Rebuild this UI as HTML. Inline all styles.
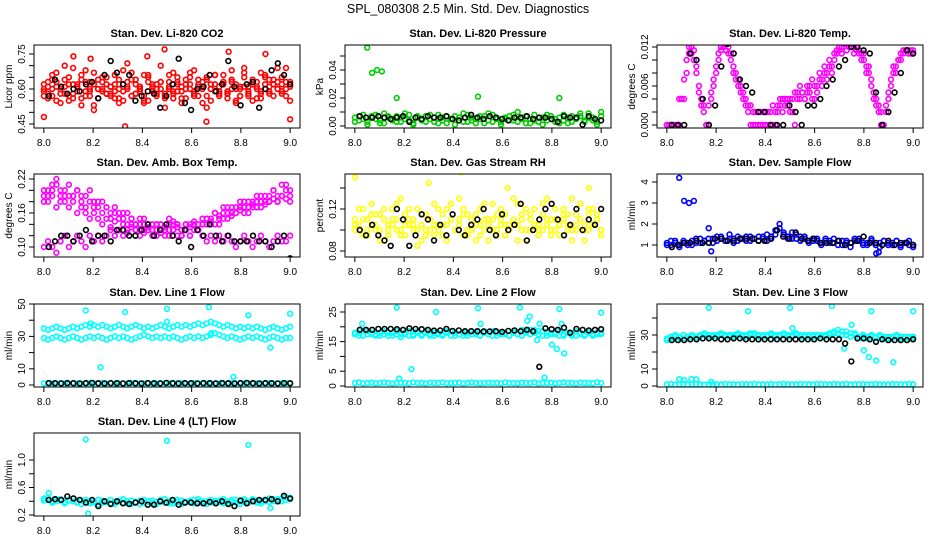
<!DOCTYPE html>
<html><head><meta charset="utf-8"><style>
html,body{margin:0;padding:0;background:#fff;}
svg{display:block;font-family:"Liberation Sans",Arial,sans-serif;}
</style></head><body>
<svg id="chart" width="936" height="540" viewBox="0 0 936 540">
<text x="468" y="13" text-anchor="middle" font-size="12.5">SPL_080308  2.5 Min. Std. Dev. Diagnostics</text>
</svg>
<script>
const xTicks=[8.0,8.2,8.4,8.6,8.8,9.0];
const co2A=[0.62,0.58,0.66,0.55,0.60,0.64,0.57,0.69,0.61,0.53,0.63,0.59,0.67,0.56,0.60,0.65,0.58,0.62,0.54,0.68,0.61,0.57,0.64,0.59,0.66,0.55,0.62,0.60,0.70,0.57,0.63,0.58,0.65,0.61,0.56,0.67,0.59,0.62,0.54,0.64,0.60,0.66,0.57,0.63,0.59,0.68,0.55,0.61,0.65,0.58,0.62,0.56,0.67,0.60,0.64,0.57,0.63,0.59,0.69,0.55];
const co2B=[0.57,0.63,0.60,0.67,0.54,0.61,0.65,0.58,0.62,0.56,0.68,0.60,0.53,0.64,0.59,0.62,0.57,0.66,0.60,0.55,0.63,0.67,0.58,0.61,0.54,0.65,0.60,0.57,0.63,0.52,0.66,0.59,0.62,0.56,0.64,0.60,0.68,0.57,0.61,0.65,0.55,0.62,0.59,0.66,0.58,0.63,0.54,0.60,0.67,0.57,0.64,0.61,0.56,0.65,0.59,0.62,0.69,0.58,0.60,0.63];
const co2C=[0.60,0.56,0.64,0.61,0.58,0.70,0.55,0.62,0.59,0.66,0.57,0.63,0.51,0.60,0.65,0.58,0.61,0.56,0.64,0.59,0.71,0.57,0.62,0.60,0.55,0.66,0.61,0.58,0.63,0.56,0.60,0.67,0.59,0.54,0.62,0.65,0.57,0.61,0.63,0.52,0.60,0.66,0.58,0.62,0.56,0.64,0.60,0.57,0.69,0.61,0.55,0.63,0.59,0.66,0.58,0.62,0.60,0.65,0.57,0.61];
const co2D=[0.59,0.61,0.57,0.63,0.60,0.58,0.62,0.56,0.61,0.64,0.59,0.57,0.62,0.60,0.63,0.58,0.61,0.59,0.56,0.62,0.60,0.64,0.58,0.61,0.57,0.63,0.59,0.62,0.60,0.58,0.61,0.56,0.63,0.59,0.60,0.62,0.58,0.64,0.60,0.57,0.62,0.59,0.61,0.63,0.58,0.60,0.62,0.57,0.61,0.59,0.63,0.60,0.58,0.62,0.61,0.64,0.60,0.62,0.63,0.62];
const co2OutX=[8.0,8.33,8.49,8.42,8.75,8.66,9.0,8.12,8.90,8.19];
const co2OutY=[0.48,0.44,0.77,0.74,0.76,0.46,0.47,0.74,0.75,0.73];
const co2Black=[0.57,0.64,0.61,0.58,0.60,0.59,0.62,0.63,0.56,0.66,0.72,0.67,0.62,0.66,0.55,0.57,0.59,0.58,0.52,0.57,0.62,0.73,0.54,0.51,0.60,0.61,0.66,0.59,0.62,0.72,0.61,0.53,0.62,0.63,0.52,0.60,0.68,0.71,0.66,0.62];

const presA=[0.006,0.004,0.008,0.003,0.007,0.005,0.002,0.009,0.006,0.004,0.007,0.003,0.005,0.008,0.002,0.006,0.004,0.007,0.005,0.003,0.008,0.006,0.002,0.005,0.007,0.004,0.009,0.003,0.006,0.005,0.007,0.002,0.004,0.008,0.006,0.003,0.005,0.007,0.004,0.010,0.006,0.002,0.005,0.008,0.003,0.006,0.004,0.007,0.005,0.002,0.008,0.006,0.003,0.005,0.007,0.004,0.009,0.006,0.003,0.010];
const presB=[0.003,0.007,0.005,0.001,0.006,0.008,0.004,0.002,0.007,0.005,0.003,0.006,0.009,0.004,0.001,0.007,0.005,0.003,0.008,0.006,0.002,0.004,0.007,0.005,0.001,0.006,0.003,0.008,0.004,0.002,0.005,0.007,0.009,0.003,0.005,0.001,0.006,0.004,0.008,0.003,0.005,0.007,0.002,0.004,0.006,0.001,0.008,0.005,0.003,0.006,0.004,0.002,0.007,0.005,0.009,0.003,0.006,0.004,0.001,0.007];
const presOutX=[8.05,8.07,8.09,8.11,8.17,8.50,8.83];
const presOutY=[0.056,0.038,0.040,0.039,0.020,0.021,0.020];
const presBlack=[0.007,0.006,0.006,0.007,0.006,0.005,0.006,0.007,0.003,0.006,0.005,0.007,0.006,0.006,0.007,0.005,0.004,0.006,0.008,0.006,0.005,0.007,0.006,0.005,0.004,0.006,0.006,0.007,0.005,0.006,0.006,0.005,0.003,0.007,0.006,0.006,0.001,0.007,0.005,0.004];

const tempA=[0,0,0,0,0,0.004,0.004,0.004,0.008,0.011,0.012,0.010,0.009,0.005,0.004,0.003,0,0.003,0.004,0.006,0.008,0.010,0.0115,0.012,0.0125,0.012,0.010,0.009,0.008,0.007,0.006,0.005,0.004,0.003,0.003,0.002,0,0.002,0.002,0,0.002,0,0.002,0,0.002,0.003,0.004,0.002,0.004,0.003,0.004,0.002,0,0.005,0.004,0.005,0.004,0.005,0.006,0.004,0.006,0.005,0.007,0.006,0.008,0.007,0.009,0.008,0.010,0.011,0.0115,0.012,0.0125,0.0125,0.012,0.0125,0.012,0.0115,0.0115,0.011,0.010,0.009,0.008,0.007,0.005,0.004,0.003,0.002,0,0.003,0.005,0.007,0.008,0.009,0.010,0.011,0.0115,0.0115,0.0115,0.011,0.0115];
const tempB=[0,0,0,0,0,0,0.004,0.007,0.010,0.012,0.011,0.0115,0.008,0.006,0.003,0.002,0,0,0.005,0.007,0.009,0.011,0.012,0.0125,0.0115,0.011,0.011,0.008,0.007,0.006,0.005,0.004,0.003,0.002,0,0,0.002,0,0,0.002,0,0.002,0,0.003,0,0.002,0.003,0.004,0.003,0.004,0.002,0.004,0.005,0.004,0.006,0.005,0.004,0.006,0.005,0.007,0.004,0.006,0.008,0.007,0.009,0.008,0.010,0.009,0.011,0.0115,0.012,0.011,0.0125,0.0115,0.0125,0.012,0.011,0.012,0.011,0.010,0.011,0.008,0.009,0.006,0.004,0.003,0.002,0,0,0.002,0.004,0.006,0.009,0.008,0.010,0.010,0.011,0.0115,0.011,0.0115,0.011];
const tempBlack=[0,0,0,0.011,0.010,0.004,0,0.003,0.009,0.0125,0.011,0.007,0.006,0.005,0.002,0.002,0,0,0,0.003,0.002,0,0.003,0.003,0.004,0.006,0.007,0.009,0.010,0.012,0.012,0.0115,0.011,0.005,0,0.002,0.005,0.008,0.0115,0.011];

const ambUp=[0.20,0.19,0.21,0.22,0.20,0.19,0.21,0.19,0.20,0.18,0.19,0.20,0.18,0.17,0.18,0.17,0.16,0.17,0.16,0.15,0.16,0.15,0.14,0.15,0.14,0.13,0.14,0.13,0.14,0.13,0.14,0.13,0.14,0.12,0.13,0.14,0.13,0.14,0.15,0.14,0.15,0.16,0.15,0.16,0.17,0.16,0.17,0.18,0.17,0.18,0.17,0.18,0.19,0.18,0.19,0.20,0.19,0.21,0.20,0.19];
const ambUp2=[0.18,0.20,0.19,0.21,0.18,0.20,0.19,0.18,0.20,0.19,0.17,0.18,0.17,0.18,0.16,0.17,0.15,0.16,0.15,0.16,0.14,0.15,0.14,0.13,0.15,0.14,0.12,0.14,0.13,0.12,0.15,0.14,0.12,0.13,0.14,0.12,0.14,0.13,0.14,0.15,0.14,0.16,0.14,0.17,0.15,0.17,0.16,0.17,0.18,0.16,0.18,0.19,0.17,0.19,0.18,0.20,0.18,0.19,0.21,0.18];
const ambMid=[0.19,0.18,0.20,0.17,0.19,0.18,0.17,0.19,0.16,0.17,0.16,0.15,0.16,0.15,0.14,0.15,0.135,0.145,0.13,0.14,0.125,0.135,0.13,0.14,0.125,0.135,0.13,0.14,0.125,0.135,0.13,0.145,0.135,0.13,0.14,0.135,0.145,0.13,0.14,0.15,0.145,0.14,0.155,0.15,0.16,0.155,0.16,0.165,0.16,0.17,0.175,0.17,0.18,0.175,0.18,0.185,0.18,0.19,0.185,0.20];
const ambLo=[0.10,0.11,0.10,0.09,0.11,0.12,0.10,0.11,0.12,0.11,0.10,0.12,0.11,0.12,0.11,0.12,0.13,0.12,0.13,0.12,0.13,0.14,0.13,0.12,0.13,0.14,0.13,0.12,0.14,0.13,0.12,0.13,0.14,0.12,0.13,0.12,0.14,0.13,0.12,0.11,0.12,0.11,0.12,0.11,0.12,0.11,0.10,0.11,0.12,0.11,0.10,0.11,0.12,0.11,0.10,0.11,0.12,0.11,0.11,0.12];
const ambBlack=[0.10,0.11,0.12,0.12,0.11,0.12,0.13,0.11,0.12,0.12,0.11,0.13,0.13,0.12,0.12,0.13,0.14,0.12,0.13,0.14,0.12,0.11,0.13,0.10,0.13,0.12,0.14,0.12,0.11,0.12,0.11,0.11,0.11,0.12,0.11,0.11,0.10,0.11,0.12,0.08];

const rhA=[0.105,0.12,0.095,0.11,0.125,0.10,0.115,0.09,0.105,0.12,0.10,0.13,0.095,0.11,0.105,0.12,0.09,0.115,0.10,0.125,0.105,0.095,0.12,0.11,0.10,0.13,0.095,0.115,0.105,0.09,0.12,0.10,0.11,0.125,0.095,0.105,0.115,0.10,0.13,0.09,0.11,0.12,0.10,0.105,0.095,0.125,0.11,0.10,0.12,0.095,0.115,0.105,0.13,0.10,0.11,0.09,0.12,0.105,0.115,0.10];
const rhB=[0.11,0.10,0.12,0.095,0.105,0.115,0.09,0.12,0.10,0.11,0.125,0.095,0.105,0.12,0.10,0.085,0.115,0.10,0.11,0.095,0.12,0.105,0.09,0.125,0.10,0.11,0.12,0.095,0.10,0.115,0.105,0.125,0.09,0.11,0.10,0.12,0.095,0.105,0.11,0.125,0.10,0.09,0.115,0.12,0.105,0.10,0.13,0.095,0.11,0.105,0.12,0.10,0.09,0.115,0.125,0.105,0.10,0.12,0.11,0.095];
const rhC=[0.10,0.105,0.11,0.10,0.115,0.105,0.10,0.11,0.095,0.105,0.11,0.10,0.115,0.105,0.11,0.10,0.105,0.095,0.11,0.105,0.10,0.115,0.105,0.11,0.10,0.105,0.115,0.10,0.11,0.105,0.095,0.11,0.105,0.10,0.115,0.11,0.105,0.10,0.11,0.105,0.115,0.10,0.11,0.105,0.10,0.115,0.105,0.11,0.10,0.105,0.11,0.115,0.10,0.105,0.11,0.10,0.115,0.105,0.11,0.10];
const rhOutX=[8.0,8.43,8.68,8.62,8.95,8.3];
const rhOutY=[0.15,0.155,0.16,0.14,0.14,0.145];
const rhBlack=[0.10,0.095,0.105,0.095,0.09,0.085,0.12,0.11,0.085,0.095,0.115,0.11,0.09,0.105,0.095,0.115,0.10,0.095,0.105,0.11,0.12,0.10,0.095,0.115,0.10,0.105,0.125,0.09,0.10,0.11,0.12,0.125,0.11,0.095,0.105,0.12,0.10,0.11,0.105,0.12];

const sfA=[1.1,1.0,1.2,0.9,1.1,1.0,1.2,1.1,1.3,1.2,1.1,1.3,1.2,1.4,1.2,1.3,1.1,1.4,1.3,1.2,1.4,1.3,1.2,1.4,1.5,1.3,1.7,1.8,1.6,1.4,1.3,1.5,1.4,1.3,1.2,1.3,1.2,1.1,1.3,1.2,1.1,1.2,1.0,1.2,1.1,1.3,1.2,1.0,1.1,1.2,1.0,1.1,1.2,1.0,1.1,1.2,1.0,1.1,1.0,0.9];
const sfB=[1.0,1.2,1.1,1.0,1.2,1.1,1.0,1.3,1.1,1.2,1.3,1.1,1.4,1.3,1.2,1.5,1.3,1.2,1.3,1.4,1.2,1.3,1.4,1.3,1.2,1.4,1.5,2.0,1.5,1.3,1.6,1.3,1.2,1.4,1.1,1.2,1.3,1.0,1.2,1.1,1.3,1.0,1.2,1.1,0.9,1.2,1.3,1.1,1.0,1.3,1.1,0.9,1.2,1.1,1.0,1.2,0.9,1.1,1.2,1.0];
const sfOutX=[8.05,8.07,8.09,8.11,8.17,8.18,8.85,8.86];
const sfOutY=[4.2,3.1,3.0,3.1,1.8,0.7,0.6,0.65];
const sfBlack=[0.9,1.0,1.1,1.1,1.2,1.1,1.1,1.3,1.3,1.2,1.2,1.3,1.3,1.3,1.2,1.2,1.3,1.7,1.4,1.3,1.6,1.3,1.2,1.3,1.1,1.1,1.1,1.2,1.0,1.1,1.2,1.4,1.1,1.1,1.0,1.2,1.0,1.1,1.1,1.0];

const l1A=[35,34,35,36,35,34,35,36,35,36,37,36,37,36,37,36,35,36,37,36,35,36,37,36,35,36,35,36,37,36,35,36,37,36,37,36,37,38,37,38,39,38,37,36,37,36,35,36,35,36,35,36,35,34,35,36,35,34,35,36];
const l1B=[29,28,29,30,29,28,29,30,29,28,29,30,29,30,29,28,29,30,29,30,29,28,29,30,31,30,29,30,29,30,29,30,29,28,29,30,29,30,29,30,31,32,31,30,29,30,29,28,29,30,29,30,29,28,29,30,29,28,29,29];
const l1C=[1,1.2,0.8,1,1.1,0.9,1,1.2,1,0.8,1,1.1,1,0.9,1.2,1,1,0.8,1.1,1,1,1.2,0.9,1,1,1.1,0.8,1,1.2,1,0.9,1,1.1,1,1,0.8,1.2,1,1,0.9,1.1,1,1,1.2,0.8,1,1,1.1,0.9,1,1.2,1,1,0.8,1.1,1,1,0.9,1.2,1];
const l1OutX=[8.17,8.33,8.5,8.67,8.83,9.0,8.23,8.77,8.92,8.19,8.5,8.68];
const l1OutY=[46,45,47,48,43,44,11,5,23,38,39,32];
const l1Black=[1.2,1.1,1.0,1.2,1.1,1.0,1.2,1.3,1.1,1.0,1.2,1.1,1.0,1.2,1.1,1.0,1.2,1.1,1.0,1.3,1.1,1.0,1.2,1.1,1.0,1.2,1.1,1.0,1.2,1.1,1.0,1.2,1.3,1.1,1.0,1.2,1.1,1.0,1.2,1.1];

const l2A=[17.5,18,17,18.5,17.5,17,18,17.5,18,17,18.5,17.5,18,17,17.5,18.5,17,18,17.5,17,18,17.5,18.5,17,18,17.5,17,18,17.5,18,17,18.5,17.5,17,18,17.5,18,17,18.5,17.5,19,18,17.5,19,18.5,17,18,17.5,18,17,17.5,18,17,18.5,17.5,17,18,17.5,18,17.5];
const l2B=[18,17,18.5,17.5,18,17.5,17,18.5,17,18,17.5,16.5,17.5,18.5,17,18,17.5,18.5,17,18,17.5,17,18,18.5,17,17.5,18,17,18.5,17.5,17,18,17.5,18.5,17,18,17.5,17,18,17.5,17,18.5,19,18,17.5,18.5,17,18,17.5,18.5,17,18,17.5,17,18,17.5,18.5,17,17.5,18];
const l2C=[1,1.2,0.8,1,1.1,0.9,1,1.2,1,0.8,1,1.1,1,0.9,1.2,1,1,0.8,1.1,1,1,1.2,0.9,1,1,1.1,0.8,1,1.2,1,0.9,1,1.1,1,1,0.8,1.2,1,1,0.9,1.1,1,1,1.2,0.8,1,1,1.1,0.9,1,1.2,1,1,0.8,1.1,1,1,0.9,1.2,1];
const l2OutX=[8.17,8.33,8.5,8.67,8.83,9.0,8.23,8.18,8.77,8.8,8.82,8.85,8.7,8.71,8.75,8.74,8.03,8.51,8.84];
const l2OutY=[26.5,25,26.3,26.5,26,24.8,5.7,2.5,2.8,14,12.5,11,22,23.5,21,15.5,21,21,21];
const l2Black=[19,19,19,19.3,19.3,19.3,19.2,19,19.5,19.3,19.2,19,18.7,18.8,19.3,18.6,18.8,18.5,18.5,18.5,18.4,18.4,18.5,18.3,18.6,18.8,18.5,19,18.5,6.5,19.5,19.2,19,19.7,18,19.3,19,18.8,19,19.2];

const l3A=[28,29,30,29,28,29,30,29,30,31,30,29,30,31,30,29,30,31,30,29,30,31,30,29,30,31,30,29,30,29,30,31,30,29,30,29,30,29,30,31,32,31,30,32,31,30,29,30,29,30,29,30,29,28,29,30,29,28,29,28];
const l3B=[27,28,29,28,30,28,29,28,29,30,29,30,29,30,29,30,29,30,29,30,31,30,29,30,29,30,29,30,31,30,29,30,29,30,29,30,29,30,29,30,31,33,32,30,29,31,28,29,28,29,28,29,28,29,28,29,28,29,28,29];
const l3C=[1,1.2,0.8,1,1.1,0.9,1,1.2,1,0.8,1,1.1,1,0.9,1.2,1,1,0.8,1.1,1,1,1.2,0.9,1,1,1.1,0.8,1,1.2,1,0.9,1,1.1,1,1,0.8,1.2,1,1,0.9,1.1,1,1,1.2,0.8,1,1,1.1,0.9,1,1.2,1,1,0.8,1.1,1,1,0.9,1.2,1];
const l3OutX=[8.17,8.33,8.5,8.67,8.83,9.0,8.05,8.07,8.1,8.12,8.8,8.82,8.85,8.92,8.72,8.75,8.51,8.18];
const l3OutY=[46,44,46,47,44,44,4,3.5,4,3.8,21,17,15,14,22,36,34,2.5];
const l3Black=[27,27,27,27.5,27.5,28,28,28,27.5,27.5,28,28,27.5,27.5,27.5,27.5,27.5,27.5,27.5,27.5,27.5,27.5,27.5,27.5,28,27.5,27.5,27.5,25,14.5,28,28,27.5,26,27.5,27,27,27,27,27.5];

const l4A=[0.44,0.42,0.40,0.43,0.41,0.39,0.42,0.40,0.38,0.41,0.39,0.37,0.40,0.42,0.38,0.40,0.37,0.39,0.41,0.38,0.40,0.36,0.39,0.41,0.38,0.40,0.37,0.39,0.42,0.38,0.40,0.37,0.39,0.41,0.38,0.40,0.42,0.39,0.37,0.40,0.38,0.41,0.39,0.37,0.40,0.42,0.38,0.40,0.43,0.39,0.41,0.38,0.40,0.42,0.39,0.43,0.41,0.44,0.42,0.45];
const l4B=[0.41,0.45,0.38,0.40,0.43,0.37,0.41,0.44,0.39,0.36,0.42,0.40,0.38,0.35,0.41,0.39,0.42,0.36,0.40,0.43,0.37,0.41,0.38,0.36,0.42,0.39,0.41,0.36,0.40,0.43,0.37,0.40,0.42,0.36,0.39,0.41,0.37,0.43,0.40,0.36,0.42,0.38,0.41,0.43,0.37,0.39,0.42,0.36,0.40,0.38,0.43,0.41,0.37,0.40,0.44,0.40,0.43,0.40,0.46,0.43];
const l4OutX=[8.17,8.5,8.83,8.18,8.92,8.02];
const l4OutY=[1.3,1.28,1.22,0.22,0.30,0.52];
const l4Black=[0.42,0.43,0.42,0.47,0.44,0.42,0.38,0.42,0.33,0.40,0.36,0.40,0.37,0.36,0.38,0.40,0.35,0.35,0.40,0.38,0.42,0.35,0.38,0.38,0.37,0.37,0.39,0.37,0.40,0.36,0.33,0.41,0.37,0.40,0.42,0.42,0.43,0.40,0.48,0.44];

const NS="http://www.w3.org/2000/svg";
const svg=document.getElementById('chart');
const RED="#ff0000",GRN="#00cd00",MAG="#ff00ff",YEL="#ffff00",BLU="#0000ff",CYN="#00ffff";
const panels=[
 {name:"co2",title:"Stan. Dev. Li-820 CO2",yl:"Licor ppm",col:0,row:0,ref:[0.45,124,0.75,54],ticks:[0.45,0.50,0.55,0.60,0.65,0.70,0.75],labels:[0.45,0.60,0.75],dec:2,
  ser:[[co2A,RED],[co2B,RED],[co2C,RED],[co2D,RED]],out:[co2OutX,co2OutY,RED],blk:co2Black},
 {name:"pressure",title:"Stan. Dev. Li-820 Pressure",yl:"kPa",col:1,row:0,ref:[0,126,0.04,70],ticks:[0,0.01,0.02,0.03,0.04,0.05],labels:[0,0.02,0.04],dec:2,
  ser:[[presA,GRN],[presB,GRN]],out:[presOutX,presOutY,GRN],blk:presBlack},
 {name:"temp",title:"Stan. Dev. Li-820 Temp.",yl:"degrees C",col:2,row:0,ref:[0,125,0.012,47],ticks:[0,0.002,0.004,0.006,0.008,0.010,0.012],labels:[0,0.006,0.012],dec:3,
  ser:[[tempA,MAG],[tempB,MAG]],out:null,blk:tempBlack},
 {name:"amb-box",title:"Stan. Dev. Amb. Box Temp.",yl:"degrees C",col:0,row:1,ref:[0.10,247,0.22,179],ticks:[0.10,0.12,0.14,0.16,0.18,0.20,0.22],labels:[0.10,0.16,0.22],dec:2,
  ser:[[ambUp,MAG],[ambUp2,MAG],[ambMid,MAG],[ambLo,MAG]],out:null,blk:ambBlack},
 {name:"rh",title:"Stan. Dev. Gas Stream RH",yl:"percent",col:1,row:1,ref:[0.08,251,0.12,209],ticks:[0.08,0.10,0.12,0.14],labels:[0.08,0.12],dec:2,
  ser:[[rhA,YEL],[rhB,YEL],[rhC,YEL]],out:[rhOutX,rhOutY,YEL],blk:rhBlack},
 {name:"sample-flow",title:"Stan. Dev. Sample Flow",yl:"ml/min",col:2,row:1,ref:[1,245,4,182],ticks:[1,2,3,4],labels:[1,2,3,4],dec:0,
  ser:[[sfA,BLU],[sfB,BLU]],out:[sfOutX,sfOutY,BLU],blk:sfBlack},
 {name:"line1",title:"Stan. Dev. Line 1 Flow",yl:"ml/min",col:0,row:2,ref:[0,385,50,304],ticks:[0,10,20,30,40,50],labels:[0,10,30,50],dec:0,
  ser:[[l1A,CYN],[l1B,CYN],[l1C,CYN]],out:[l1OutX,l1OutY,CYN],blk:l1Black},
 {name:"line2",title:"Stan. Dev. Line 2 Flow",yl:"ml/min",col:1,row:2,ref:[0,386,25,312],ticks:[0,5,10,15,20,25],labels:[0,5,15,25],dec:0,
  ser:[[l2A,CYN],[l2B,CYN],[l2C,CYN]],out:[l2OutX,l2OutY,CYN],blk:l2Black},
 {name:"line3",title:"Stan. Dev. Line 3 Flow",yl:"ml/min",col:2,row:2,ref:[0,386,30,335],ticks:[0,10,20,30,40],labels:[0,10,30],dec:0,
  ser:[[l3A,CYN],[l3B,CYN],[l3C,CYN]],out:[l3OutX,l3OutY,CYN],blk:l3Black},
 {name:"line4",title:"Stan. Dev. Line 4 (LT) Flow",yl:"ml/min",col:0,row:3,ref:[0.2,515,1.0,460],ticks:[0.2,0.4,0.6,0.8,1.0],labels:[0.2,0.6,1.0],dec:1,
  ser:[[l4A,CYN],[l4B,CYN]],out:[l4OutX,l4OutY,CYN],blk:l4Black}
];
const colL=[34,345,657], rowT=[45,174,304,433], W=266, H=83;

function mk(tag,attrs,parent){const e=document.createElementNS(NS,tag);for(const k in attrs)e.setAttribute(k,attrs[k]);(parent||svg).appendChild(e);return e;}

panels.forEach(p=>{
  const L=colL[p.col],T=rowT[p.row];
  const g=mk('g',{});
  
  
  const xs=v=>L+W*(v-7.96)/1.08;
  const [v1,p1,v2,p2]=p.ref;
  const ys=v=>p1+(v-v1)*(p2-p1)/(v2-v1);
  const t=mk('text',{x:L+W/2,y:T-8,'text-anchor':'middle','font-size':11,'font-weight':'bold'},g);
  t.textContent=p.title;
  
  
  const cp=mk('clipPath',{id:'c-'+p.name},g);
  mk('rect',{x:L,y:T,width:W,height:H},cp);
  const pts=mk('g',{'clip-path':'url(#c-'+p.name+')',fill:'none','stroke-width':1.6},g);
  function dot(x,y,c){const e=mk('circle',{cx:x.toFixed(1),cy:y.toFixed(1),r:2.4,stroke:c},pts);
    
    }
  p.ser.forEach(([arr,c])=>{const n=arr.length;arr.forEach((v,i)=>dot(xs(8.0+i/(n-1)),ys(v),c));});
  if(p.out){const [ox,oy,c]=p.out;ox.forEach((x,i)=>dot(xs(x),ys(oy[i]),c));}
  const n=p.blk.length;
  p.blk.forEach((v,i)=>dot(xs(8.02+0.98*i/(n-1)),ys(v),'#000'));
  const b=mk('rect',{x:L,y:T,width:W,height:H,fill:'none',stroke:'#000','stroke-width':1},g);
  
  
  mk('line',{x1:xs(8),x2:xs(9),y1:T+H,y2:T+H,stroke:'#000'},g);
  xTicks.forEach(v=>{const x=xs(v);mk('line',{x1:x,x2:x,y1:T+H,y2:T+H+5,stroke:'#000'},g);
    const tl=mk('text',{x:x,y:T+H+18,'text-anchor':'middle','font-size':10},g);tl.textContent=v.toFixed(1);
    
    });
  p.ticks.forEach(v=>{const y=ys(v);mk('line',{x1:L-5,x2:L,y1:y,y2:y,stroke:'#000'},g);});
  p.labels.forEach(v=>{const y=ys(v);const tl=mk('text',{x:L-9,y:y,'text-anchor':'middle','font-size':10,transform:`rotate(-90 ${L-9} ${y})`},g);
    tl.textContent=v.toFixed(p.dec);
    
    });
  const yt=mk('text',{x:L-22,y:T+H/2,'text-anchor':'middle','font-size':10,transform:`rotate(-90 ${L-22} ${T+H/2})`},g);
  yt.textContent=p.yl;
  
  
});
</script>
</body></html>
